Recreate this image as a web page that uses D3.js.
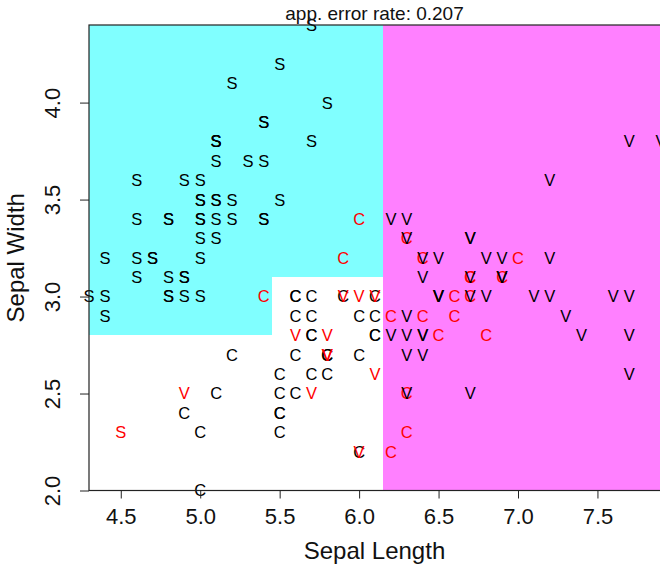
<!DOCTYPE html>
<html>
<head>
<meta charset="utf-8">
<script src="https://cdn.jsdelivr.net/npm/d3@7"></script>
<style>
  body { margin: 0; background: white; }
  text { font-family: "Liberation Sans", Arial, sans-serif; }
</style>
</head>
<body>
<div id="viz"></div>
<script>
var width = 660,
    height = 566;

// iris, Sepal.Length / Sepal.Width, 50 per species
var sepalLength = [
  5.1,4.9,4.7,4.6,5.0,5.4,4.6,5.0,4.4,4.9,5.4,4.8,4.8,4.3,5.8,5.7,5.4,5.1,5.7,5.1,
  5.4,5.1,4.6,5.1,4.8,5.0,5.0,5.2,5.2,4.7,4.8,5.4,5.2,5.5,4.9,5.0,5.5,4.9,4.4,5.1,
  5.0,4.5,4.4,5.0,5.1,4.8,5.1,4.6,5.3,5.0,
  7.0,6.4,6.9,5.5,6.5,5.7,6.3,4.9,6.6,5.2,5.0,5.9,6.0,6.1,5.6,6.7,5.6,5.8,6.2,5.6,
  5.9,6.1,6.3,6.1,6.4,6.6,6.8,6.7,6.0,5.7,5.5,5.5,5.8,6.0,5.4,6.0,6.7,6.3,5.6,5.5,
  5.5,6.1,5.8,5.0,5.6,5.7,5.7,6.2,5.1,5.7,
  6.3,5.8,7.1,6.3,6.5,7.6,4.9,7.3,6.7,7.2,6.5,6.4,6.8,5.7,5.8,6.4,6.5,7.7,7.7,6.0,
  6.9,5.6,7.7,6.3,6.7,7.2,6.2,6.1,6.4,7.2,7.4,7.9,6.4,6.3,6.1,7.7,6.3,6.4,6.0,6.9,
  6.7,6.9,5.8,6.8,6.7,6.7,6.3,6.5,6.2,5.9
];
var sepalWidth = [
  3.5,3.0,3.2,3.1,3.6,3.9,3.4,3.4,2.9,3.1,3.7,3.4,3.0,3.0,4.0,4.4,3.9,3.5,3.8,3.8,
  3.4,3.7,3.6,3.3,3.4,3.0,3.4,3.5,3.4,3.2,3.1,3.4,4.1,4.2,3.1,3.2,3.5,3.6,3.0,3.4,
  3.5,2.3,3.2,3.5,3.8,3.0,3.8,3.2,3.7,3.3,
  3.2,3.2,3.1,2.3,2.8,2.8,3.3,2.4,2.9,2.7,2.0,3.0,2.2,2.9,2.9,3.1,3.0,2.7,2.2,2.5,
  3.2,2.8,2.5,2.8,2.9,3.0,2.8,3.0,2.9,2.6,2.4,2.4,2.7,2.7,3.0,3.4,3.1,2.3,3.0,2.5,
  2.6,3.0,2.6,2.3,2.7,3.0,2.9,2.9,2.5,2.8,
  3.3,2.7,3.0,2.9,3.0,3.0,2.5,2.9,2.5,3.6,3.2,2.7,3.0,2.5,2.8,3.2,3.0,3.8,2.6,2.2,
  3.2,2.8,2.8,2.7,3.3,3.2,2.8,3.0,2.8,3.0,2.8,3.8,2.8,2.8,2.6,3.0,3.4,3.1,3.0,3.1,
  3.1,3.1,2.7,3.2,3.3,3.0,2.5,3.0,3.4,3.0
];
var speciesCodes = ["S", "C", "V"];   // setosa, versicolor, virginica
var speciesCounts = [50, 50, 50];

// partition of the classifier (rectangles in data units)
var regions = [
  { x0: 4.3,  x1: 5.45, y0: 2.8, y1: 4.4, cls: "S" },
  { x0: 5.45, x1: 6.15, y0: 3.1, y1: 4.4, cls: "S" },
  { x0: 4.3,  x1: 5.45, y0: 2.0, y1: 2.8, cls: "C" },
  { x0: 5.45, x1: 6.15, y0: 2.0, y1: 3.1, cls: "C" },
  { x0: 6.15, x1: 7.9,  y0: 2.0, y1: 4.4, cls: "V" }
];
var regionColors = { S: "#80ffff", C: "#ffffff", V: "#ff80ff" };

var xTicks = [4.5, 5.0, 5.5, 6.0, 6.5, 7.0, 7.5],
    yTicks = [2.0, 2.5, 3.0, 3.5, 4.0];
var titleText = "app. error rate: 0.207",
    xLabel = "Sepal Length",
    yLabel = "Sepal Width";

var species = [];
speciesCodes.forEach(function(c, i) {
  for (var k = 0; k < speciesCounts[i]; k++) species.push(c);
});

var points = sepalLength.map(function(v, i) {
  return { x: v, y: sepalWidth[i], cls: species[i] };
});

function predict(p) {
  var r = regions.find(function(r) {
    return p.x >= r.x0 && p.x < r.x1 + (r.x1 >= 7.9 ? 1 : 0) &&
           p.y >= r.y0 && p.y < r.y1 + (r.y1 >= 4.4 ? 1 : 0);
  });
  return r ? r.cls : null;
}

var pLeft = 89, pRight = 664, pTop = 25, pBottom = 490.5;

var x = d3.scaleLinear().domain([4.3, 7.9]).range([pLeft, 661]),
    y = d3.scaleLinear().domain([2.0, 4.4]).range([pBottom, pTop]);

var svg = d3.select("#viz").append("svg")
    .attr("width", width)
    .attr("height", height);

svg.append("clipPath").attr("id", "plotclip")
  .append("rect")
    .attr("x", pLeft).attr("y", pTop)
    .attr("width", pRight - pLeft).attr("height", pBottom - pTop);

// region image
svg.append("g")
    .attr("clip-path", "url(#plotclip)")
  .selectAll("rect")
  .data(regions)
  .enter()
  .append("rect")
    .attr("x", function(d) { return x(d.x0); })
    .attr("y", function(d) { return y(d.y1); })
    .attr("width", function(d) { return (d.x1 >= 7.9 ? pRight + 5 : x(d.x1)) - x(d.x0); })
    .attr("height", function(d) { return y(d.y0) - y(d.y1); })
    .style("fill", function(d) { return regionColors[d.cls]; })
    .attr("shape-rendering", "crispEdges");

// letters
var fs = 16.5;
svg.append("g")
  .selectAll("text")
  .data(points)
  .enter()
  .append("text")
    .attr("x", function(d) { return x(d.x); })
    .attr("y", function(d) { return y(d.y) + fs * 0.36; })
    .attr("text-anchor", "middle")
    .style("font-size", fs + "px")
    .style("fill", function(d) { return predict(d) === d.cls ? "black" : "red"; })
    .text(function(d) { return d.cls; });

// box
svg.append("rect")
    .attr("x", pLeft).attr("y", pTop)
    .attr("width", pRight - pLeft).attr("height", pBottom - pTop)
    .style("fill", "none")
    .style("stroke", "#222")
    .style("stroke-width", 1.2);

// axes
var xAxis = svg.append("g")
    .attr("transform", "translate(0," + pBottom + ")")
    .call(d3.axisBottom(x).tickValues(xTicks).tickFormat(d3.format(".1f")).tickSize(8).tickPadding(10));
xAxis.select(".domain").remove();
xAxis.selectAll("text")
    .style("font-size", "22px")
    .style("fill", "#111")
    .style("font-family", "Liberation Sans, Arial, sans-serif");
xAxis.selectAll("line").style("stroke", "#222");

var yAxis = svg.append("g")
    .attr("transform", "translate(" + pLeft + ",0)")
    .call(d3.axisLeft(y).tickValues(yTicks).tickFormat(d3.format(".1f")).tickSize(9));
yAxis.select(".domain").remove();
yAxis.selectAll("line").style("stroke", "#222");
yAxis.selectAll("text")
    .attr("x", null).attr("dy", null)
    .attr("text-anchor", "middle")
    .attr("transform", "translate(-29,0) rotate(-90)")
    .style("font-size", "22px")
    .style("fill", "#111")
    .style("font-family", "Liberation Sans, Arial, sans-serif");

// titles
svg.append("text")
    .attr("x", (pLeft + 660) / 2)
    .attr("y", 20)
    .attr("text-anchor", "middle")
    .style("font-size", "19px")
    .style("fill", "#111")
    .text(titleText);

svg.append("text")
    .attr("x", (pLeft + 660) / 2)
    .attr("y", 559)
    .attr("text-anchor", "middle")
    .style("font-size", "24px")
    .style("fill", "#111")
    .text(xLabel);

svg.append("text")
    .attr("transform", "translate(24," + (pTop + pBottom) / 2 + ") rotate(-90)")
    .attr("text-anchor", "middle")
    .style("font-size", "24px")
    .style("fill", "#111")
    .text(yLabel);
</script>
</body>
</html>
